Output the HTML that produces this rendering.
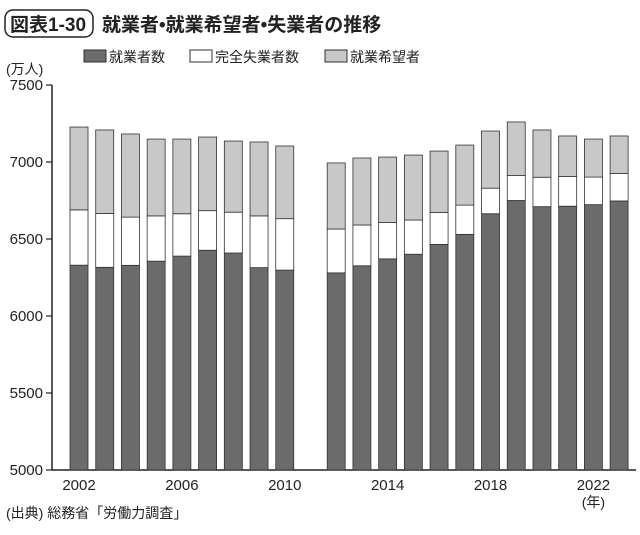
<!DOCTYPE html>
<html><head><meta charset="utf-8"><style>
body{margin:0;background:#fff;width:640px;height:530px;overflow:hidden;font-family:"Liberation Sans","Noto Sans CJK JP",sans-serif;}
svg text{font-family:"Liberation Sans","Noto Sans CJK JP",sans-serif;fill:#222;}
</style></head><body>
<svg id="chart" width="640" height="530">
<rect x="5" y="10" width="88" height="27" rx="8" fill="none" stroke="#222" stroke-width="1.5"/>
<text x="10" y="31" font-size="19" font-weight="bold">図表1-30</text>
<text x="102" y="31" font-size="19" font-weight="bold">就業者•就業希望者•失業者の推移</text>
<rect x="84" y="50" width="22" height="12" fill="#6b6b6b" stroke="#333"/>
<text x="109" y="62" font-size="14">就業者数</text>
<rect x="190" y="50" width="22" height="12" fill="#fff" stroke="#333"/>
<text x="215" y="62" font-size="14">完全失業者数</text>
<rect x="325" y="50" width="22" height="12" fill="#c8c8c8" stroke="#333"/>
<text x="350" y="62" font-size="14">就業希望者</text>
<text x="6" y="74" font-size="14">(万人)</text>
<text x="6" y="518" font-size="14">(出典) 総務省「労働力調査」</text>
<g id="g"></g>
</svg>
<script>
const years=[2002,2003,2004,2005,2006,2007,2008,2009,2010,2011,2012,2013,2014,2015,2016,2017,2018,2019,2020,2021,2022,2023];
const employed=[6330,6316,6329,6356,6389,6427,6409,6314,6298,null,6280,6326,6371,6401,6465,6530,6664,6750,6710,6713,6723,6747];
const unemployed=[359,350,313,294,275,257,265,336,334,null,285,265,236,222,208,190,166,162,191,193,179,178];
const desired=[538,542,540,499,485,478,462,480,472,null,429,435,425,422,398,390,371,348,307,263,247,244];
const yTicks=[5000,5500,6000,6500,7000,7500];
const xLabels=[2002,2006,2010,2014,2018,2022];
const NS="http://www.w3.org/2000/svg",g=document.getElementById('g');
const y=v=>470-(v-5000)*0.154;
const x=i=>70+i*25.72;
const bw=18;
function mk(t,a){const e=document.createElementNS(NS,t);for(const k in a)e.setAttribute(k,a[k]);g.appendChild(e);return e;}
let ax=mk('line',{x1:52,y1:y(7500),x2:52,y2:470,stroke:'#222','stroke-width':1.5});


let bx=mk('line',{x1:52,y1:470,x2:636,y2:470,stroke:'#222','stroke-width':1.5});


yTicks.forEach(v=>{
 let l=mk('line',{x1:46,x2:52,y1:y(v),y2:y(v),stroke:'#222','stroke-width':1.2});
 
 
 let t=mk('text',{x:43,y:y(v)+5,'text-anchor':'end','font-size':15});
 t.textContent=v;
 
 
});
years.forEach((yr,i)=>{
 if(employed[i]==null)return;
 const e=employed[i],u=unemployed[i],d=desired[i];
 let r1=mk('rect',{x:x(i),y:y(e),width:bw,height:470-y(e),fill:'#6b6b6b',stroke:'#333','stroke-width':0.8});
 
 
 let r2=mk('rect',{x:x(i),y:y(e+u),width:bw,height:y(e)-y(e+u),fill:'#fff',stroke:'#333','stroke-width':0.8});
 
 
 let r3=mk('rect',{x:x(i),y:y(e+u+d),width:bw,height:y(e+u)-y(e+u+d),fill:'#c8c8c8',stroke:'#333','stroke-width':0.8});
 
 
});
xLabels.forEach(yr=>{
 const i=years.indexOf(yr);
 let t=mk('text',{x:x(i)+bw/2,y:490,'text-anchor':'middle','font-size':15});
 t.textContent=yr;
 
 
});
let n=mk('text',{x:x(20)+bw/2,y:507,'text-anchor':'middle','font-size':14});
n.textContent='(年)';


</script>
</body></html>
